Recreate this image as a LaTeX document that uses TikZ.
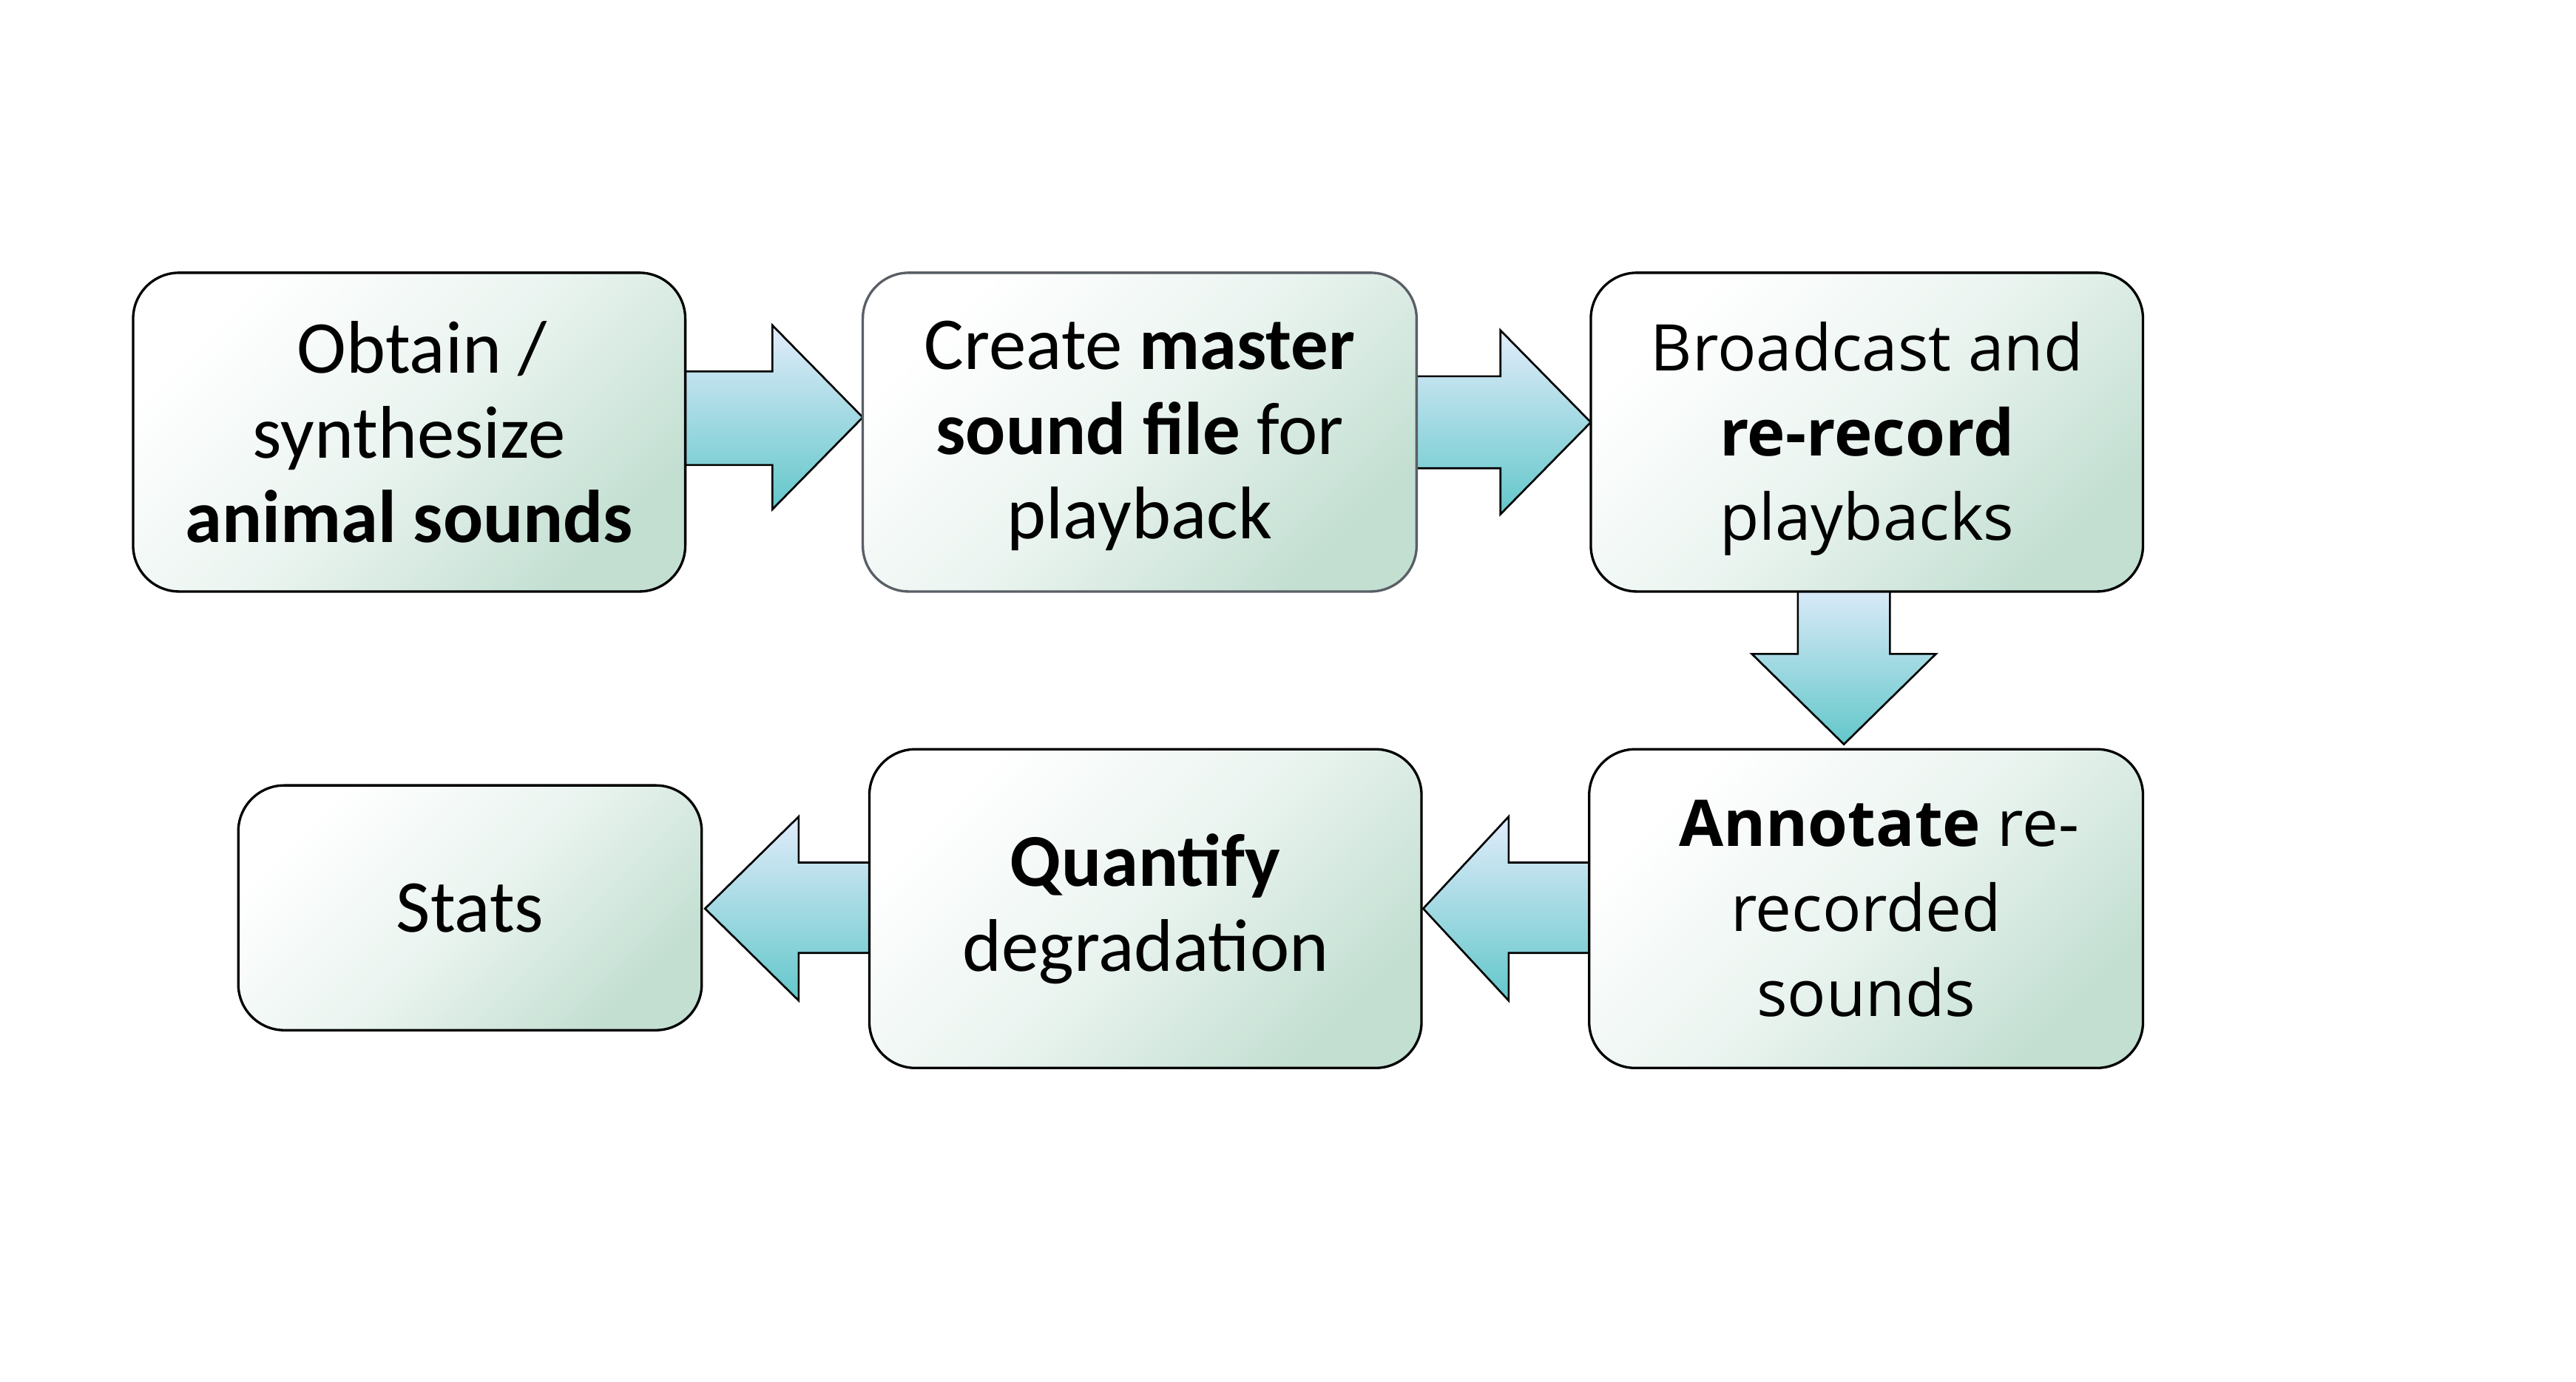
\documentclass[tikz,border=0pt]{standalone}
\usepackage{fontspec}
\setmainfont{Carlito}
\newfontfamily\widefont{Open Sans}
\definecolor{boxlight}{HTML}{FFFFFF}
\definecolor{boxdark}{HTML}{C3DFD2}
\definecolor{arrtop}{HTML}{E2ECFB}
\definecolor{arrbot}{HTML}{62C7CA}
\definecolor{greyline}{HTML}{5A5F66}
\newcommand\lowertext[2]{\raisebox{0pt}[\dimexpr\height+#1\relax][\depth]{\begin{tabular}{@{}c@{}}#2\end{tabular}}}
\begin{document}
\begin{tikzpicture}[x=0.5pt,y=-0.5pt,
  stepbox/.style={draw=black, line width=0.75pt, rounded corners=14pt,
    top color=boxlight, bottom color=boxdark, middle color=boxdark!35!white, shading angle=45,
    align=center, inner sep=0pt, font=\fontsize{22.7}{25.8}\selectfont},
  widetext/.style={font=\widefont\fontsize{19.6}{25.8}\selectfont},
  blockarrow/.style={draw=black, line width=0.6pt, top color=arrtop, bottom color=arrbot, line join=miter}]
\fill[white] (0,0) rectangle (1567.5,841);
\useasboundingbox (0,0) rectangle (1567.5,841);
% arrows (drawn below the boxes)
\path[blockarrow] (410,226) -- (470,226) -- (470,198) -- (525,254) -- (470,310) -- (470,283) -- (410,283) -- cycle;
\path[blockarrow] (855,229) -- (913,229) -- (913,201) -- (968,257) -- (913,313) -- (913,285) -- (855,285) -- cycle;
\path[blockarrow] (1094,353) -- (1094,398) -- (1066,398) -- (1122,453) -- (1178,398) -- (1150,398) -- (1150,353) -- cycle;
\path[blockarrow] (974,525) -- (918,525) -- (918,497) -- (866,553) -- (918,609) -- (918,580) -- (974,580) -- cycle;
\path[blockarrow] (536,525) -- (486,525) -- (486,497) -- (429,553) -- (486,609) -- (486,580) -- (536,580) -- cycle;
% boxes
\node[stepbox, minimum width=168pt, minimum height=97pt] (b1) at (249,263)
  {\hspace*{8pt}Obtain /\\synthesize\\\textbf{animal sounds}};
\node[stepbox, draw=greyline, minimum width=168.5pt, minimum height=97pt] (b2) at (693.5,263)
  {\lowertext{3pt}{Create \textbf{master}\\\textbf{sound file} for\\playback}};
\node[stepbox, widetext, minimum width=168pt, minimum height=97pt] (b3) at (1136,263)
  {\lowertext{4pt}{Broadcast and\\\textbf{re-record}\\playbacks}};
\node[stepbox, widetext, minimum width=168.5pt, minimum height=97pt] (b4) at (1135.5,553)
  {\hspace*{8pt}\textbf{Annotate} re-\\recorded\\sounds};
\node[stepbox, minimum width=168pt, minimum height=97pt] (b5) at (697,553)
  {\lowertext{2pt}{\textbf{Quantify}\\degradation}};
\node[stepbox, minimum width=141pt, minimum height=74.5pt] (b6) at (286,552.5)
  {Stats};
\end{tikzpicture}
\end{document}
